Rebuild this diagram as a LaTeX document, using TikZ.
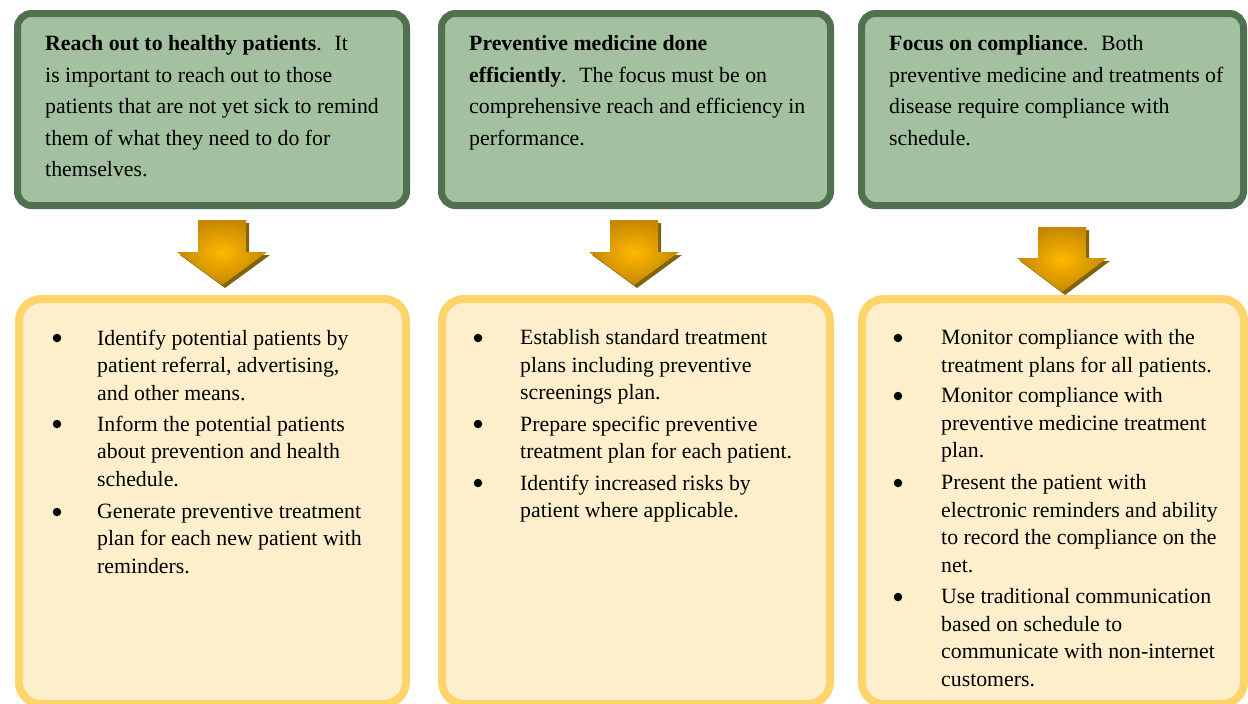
\documentclass[tikz,border=0pt]{standalone}
\usepackage{fontspec}
\setmainfont{Liberation Serif}
\usepackage{tikz}
\definecolor{topfill}{HTML}{A3C1A0}
\definecolor{topline}{HTML}{4F7150}
\definecolor{botfill}{HTML}{FDEFCB}
\definecolor{botline}{HTML}{FFD46B}
\definecolor{gold}{HTML}{FFB800}
\definecolor{dkgold}{HTML}{C48800}
\definecolor{goldshadow}{HTML}{7F6410}

\begin{document}
\begin{tikzpicture}[x=1pt,y=-1pt,
   topbox/.style={draw=topline,fill=topfill,line width=7pt,rounded corners=14pt,inner sep=0pt,minimum height=192pt},
   botbox/.style={draw=botline,fill=botfill,line width=8pt,rounded corners=22pt,inner sep=0pt,minimum height=405pt},
   toptext/.style={anchor=north west,inner sep=0pt,align=left,font=\fontsize{21.8}{31.5}\selectfont},
   itemtext/.style={anchor=north west,inner sep=0pt,align=left,font=\fontsize{21.8}{27.5}\selectfont},
   dot/.style={circle,fill=black,inner sep=0pt,minimum size=8.5pt},
   goldarrow/.style={inner color=gold,outer color=dkgold},
   arrowshadow/.style={fill=goldshadow}]
   \clip (0,0) rectangle (1248,704);
   \fill[white] (0,0) rectangle (1248,704);
   % Top boxes
   \node[topbox,minimum width=389pt] (top1) at (212,109.5) {};
   \node[topbox,minimum width=389pt] (top2) at (636,109.5) {};
   \node[topbox,minimum width=382pt] (top3) at (1052.5,109.5) {};
   \node[toptext] (head1) at (45,35.6) {\textbf{Reach out to healthy patients}.~ It\\
     is important to reach out to those\\
     patients that are not yet sick to remind\\
     them of what they need to do for\\
     themselves.};
   \node[toptext] (head2) at (469,35.6) {\textbf{Preventive medicine done}\\
     \textbf{efficiently}.~ The focus must be on\\
     comprehensive reach and efficiency in\\
     performance.};
   \node[toptext] (head3) at (889,35.6) {\textbf{Focus on compliance}.~ Both\\
     preventive medicine and treatments of\\
     disease require compliance with\\
     schedule.};
   % Arrows
   \fill[arrowshadow,shift={(225,223)}] (-24,0) -- (24,0) -- (24,32) -- (45,32) -- (0,65) -- (-45,32) -- (-24,32) -- cycle;
   \shade[goldarrow,shift={(222,220)}] (-24,0) -- (24,0) -- (24,32) -- (45,32) -- (0,65) -- (-45,32) -- (-24,32) -- cycle;
   \fill[arrowshadow,shift={(637,223)}] (-24,0) -- (24,0) -- (24,32) -- (45,32) -- (0,65) -- (-45,32) -- (-24,32) -- cycle;
   \shade[goldarrow,shift={(634,220)}] (-24,0) -- (24,0) -- (24,32) -- (45,32) -- (0,65) -- (-45,32) -- (-24,32) -- cycle;
   \fill[arrowshadow,shift={(1065,230)}] (-24,0) -- (24,0) -- (24,31) -- (45,31) -- (0,65) -- (-45,31) -- (-24,31) -- cycle;
   \shade[goldarrow,shift={(1062,227)}] (-24,0) -- (24,0) -- (24,31) -- (45,31) -- (0,65) -- (-45,31) -- (-24,31) -- cycle;
   % Bottom boxes
   \node[botbox,minimum width=387pt] (bot1) at (212.5,501.5) {};
   \node[botbox,minimum width=388pt] (bot2) at (636,501.5) {};
   \node[botbox,minimum width=382pt] (bot3) at (1053,501.5) {};
   % Left list
   \node[dot] (b11) at (57,338) {};
   \node[itemtext] (t11) at (97,329.6) {Identify potential patients by\\ patient referral, advertising,\\ and other means.};
   \node[dot] (b12) at (57,424) {};
   \node[itemtext] (t12) at (97,415.6) {Inform the potential patients\\ about prevention and health\\ schedule.};
   \node[dot] (b13) at (57,512) {};
   \node[itemtext] (t13) at (97,503.6) {Generate preventive treatment\\ plan for each new patient with\\ reminders.};
   % Middle list
   \node[dot] (b21) at (478,338) {};
   \node[itemtext] (t21) at (520,329.6) {Establish standard treatment\\ plans including preventive\\ screenings plan.};
   \node[dot] (b22) at (478,424) {};
   \node[itemtext] (t22) at (520,415.6) {Prepare specific preventive\\ treatment plan for each patient.};
   \node[dot] (b23) at (478,483) {};
   \node[itemtext] (t23) at (520,474.6) {Identify increased risks by\\ patient where applicable.};
   % Right list
   \node[dot] (b31) at (898,338) {};
   \node[itemtext] (t31) at (941,329.6) {Monitor compliance with the\\ treatment plans for all patients.};
   \node[dot] (b32) at (898,396) {};
   \node[itemtext] (t32) at (941,387.6) {Monitor compliance with\\ preventive medicine treatment\\ plan.};
   \node[dot] (b33) at (898,483) {};
   \node[itemtext] (t33) at (941,474.6) {Present the patient with\\ electronic reminders and ability\\ to record the compliance on the\\ net.};
   \node[dot] (b34) at (898,597) {};
   \node[itemtext] (t34) at (941,588.6) {Use traditional communication\\ based on schedule to\\ communicate with non-internet\\ customers.};
\end{tikzpicture}
\end{document}
